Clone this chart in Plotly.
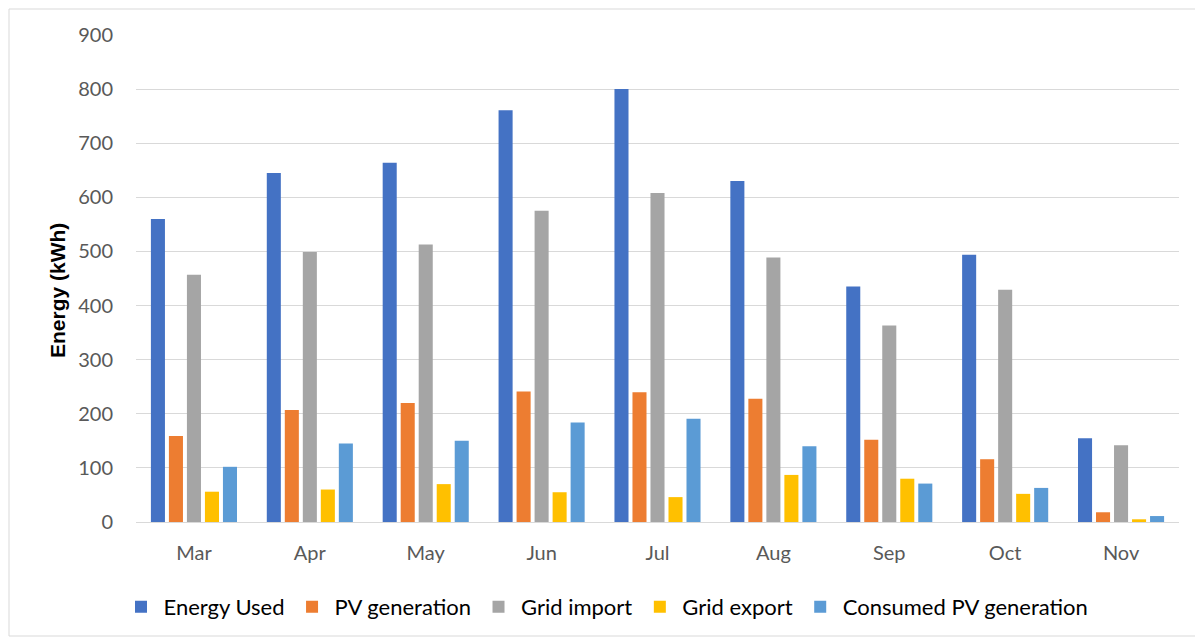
import plotly.graph_objects as go

months = ["Mar", "Apr", "May", "Jun", "Jul", "Aug", "Sep", "Oct", "Nov"]
energy_used = [560, 645, 664, 761, 800, 630, 435, 494, 155]
pv_generation = [159, 207, 220, 241, 240, 228, 152, 116, 18]
grid_import = [457, 499, 513, 575, 608, 489, 363, 429, 142]
grid_export = [56, 60, 70, 55, 46, 87, 80, 52, 5]
consumed_pv = [102, 145, 150, 184, 191, 140, 71, 63, 11]

series = [
    ("Energy Used", energy_used, "#4472C4"),
    ("PV generation", pv_generation, "#ED7D31"),
    ("Grid import", grid_import, "#A5A5A5"),
    ("Grid export", grid_export, "#FFC000"),
    ("Consumed PV generation", consumed_pv, "#5B9BD5"),
]

fig = go.Figure()
for name, vals, color in series:
    fig.add_trace(go.Bar(x=months, y=vals, name=name, marker_color=color,
                         marker_line_width=0))

OFF = 8  # default page body margin
W, H = 1203 - OFF, 641 - OFF
# target plot area in screen pixels: x 136..1179, y 35..522
L, T = 136 - OFF, 35 - OFF
R, B = (W + OFF) - 1179, (H + OFF) - 522
pw, ph = W - L - R, H - T - B

def px_x(sx):
    return (sx - OFF - L) / pw

def px_y(sy):
    return (T + ph - (sy - OFF)) / ph

fig.update_layout(
    width=W, height=H,
    margin=dict(l=L, r=R, t=T, b=B),
    paper_bgcolor="white", plot_bgcolor="white",
    barmode="group", bargap=0.223, bargroupgap=0.22,
    font=dict(family="Lato, Liberation Sans, sans-serif", size=20, color="#595959"),
    legend=dict(orientation="h", x=px_x(606), xanchor="center",
                y=px_y(607), yanchor="middle", itemwidth=35,
                font=dict(size=22, color="black"), traceorder="normal"),
    showlegend=True,
)
fig.update_yaxes(range=[0, 900], dtick=100, showgrid=True, gridcolor="#D9D9D9",
                 gridwidth=1, zeroline=True, zerolinecolor="#D9D9D9", zerolinewidth=1,
                 showline=False, ticklabelstandoff=22,
                 tickfont=dict(size=20, color="#595959"))
fig.update_xaxes(showline=False, showgrid=False, ticks="", ticklabelstandoff=17,
                 tickfont=dict(size=20, color="#595959"))

fig.add_annotation(text="<b>Energy (kWh)</b>", textangle=-90, showarrow=False,
                   xref="paper", yref="paper", x=px_x(57), y=px_y(291),
                   xanchor="center", yanchor="middle",
                   font=dict(family="Liberation Sans, Arial, sans-serif",
                             size=21, color="black"))

fig.add_shape(type="rect", xref="paper", yref="paper",
              x0=px_x(9), x1=px_x(1198),
              y0=px_y(636), y1=px_y(9),
              line=dict(color="#D9D9D9", width=1), fillcolor="rgba(0,0,0,0)",
              layer="below")

fig.write_html("out.html")
